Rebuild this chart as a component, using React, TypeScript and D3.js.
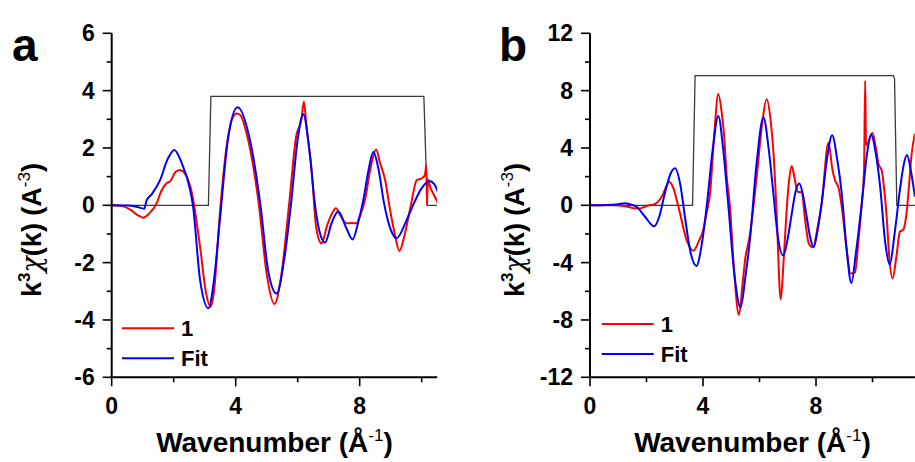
import React from 'react';
import * as d3 from 'd3';

type P = [number, number];

// Panel a: experimental k3chi(k) ("1"), fit, and window
const dataA: P[] = [[0,0],[0.3,-0.02],[0.6,-0.15],[0.85,-0.35],[1.02,-0.43],[1.2,-0.3],[1.45,0.07],[1.6,0.5],[1.77,0.77],[1.9,0.85],[2.05,1.15],[2.2,1.23],[2.42,1.0],[2.55,0.6],[2.65,0.05],[2.85,-1.44],[3.05,-3.1],[3.19,-3.54],[3.3,-3.0],[3.49,-0.28],[3.7,2.0],[3.9,3.05],[4.03,3.2],[4.15,3.15],[4.35,2.51],[4.75,0],[5.0,-2.4],[5.25,-3.44],[5.45,-2.6],[5.72,0],[5.95,2.4],[6.12,3.0],[6.2,3.62],[6.28,2.8],[6.45,1.2],[6.6,-0.8],[6.77,-1.33],[6.95,-0.7],[7.1,-0.3],[7.23,-0.1],[7.4,-0.4],[7.58,-0.63],[7.75,-0.62],[7.9,-0.63],[8.0,-0.4],[8.17,0.18],[8.35,1.3],[8.53,1.95],[8.65,1.5],[8.82,0.88],[8.98,-0.16],[9.15,-1.1],[9.28,-1.59],[9.46,-0.98],[9.65,0],[9.84,0.88],[10.0,0.94],[10.1,1.05],[10.15,1.4],[10.17,0.0],[10.2,0.9],[10.27,0.65],[10.4,0.35],[10.53,0.07]];
const fitA: P[] = [[0,0],[0.5,-0.01],[0.8,-0.05],[1.05,-0.12],[1.12,0.15],[1.3,0.4],[1.56,0.88],[1.8,1.6],[2.02,1.93],[2.25,1.5],[2.53,0.53],[2.62,0],[2.85,-2.6],[3.12,-3.59],[3.3,-2.6],[3.49,-0.51],[3.75,2.3],[4.06,3.42],[4.46,2.28],[4.8,0],[5.05,-2.3],[5.32,-3.08],[5.55,-2.0],[5.78,0],[6.0,2.3],[6.18,3.18],[6.38,1.9],[6.56,0],[6.7,-0.9],[6.88,-1.3],[7.1,-0.6],[7.31,-0.22],[7.55,-0.75],[7.77,-1.19],[7.95,-0.6],[8.12,0.2],[8.28,1.2],[8.44,1.87],[8.6,1.3],[8.78,0.1],[9.0,-0.85],[9.19,-1.15],[9.5,-0.55],[9.72,0],[10.0,0.6],[10.25,0.85],[10.4,0.75],[10.53,0.45]];
const windowA: P[] = [[0,0],[3.12,0],[3.2,3.8],[10.07,3.8],[10.18,0],[10.5,0]];

// Panel b
const dataB: P[] = [[0,0],[0.8,0],[1.2,-0.05],[1.55,-0.2],[1.75,-0.22],[2.0,-0.05],[2.3,0.09],[2.54,0.6],[2.81,1.65],[2.95,1.2],[3.13,-0.1],[3.42,-2.42],[3.66,-3.17],[3.85,-2.5],[4.01,-1.7],[4.12,-0.6],[4.25,0.84],[4.4,5.0],[4.54,7.77],[4.66,6.5],[4.75,4.8],[4.84,2.0],[4.95,0],[5.1,-4.5],[5.27,-7.65],[5.4,-5.5],[5.49,-3.8],[5.66,-2.07],[5.9,2.0],[6.1,5.8],[6.25,7.4],[6.4,5.8],[6.5,3.5],[6.6,-0.3],[6.75,-6.56],[6.85,-4.0],[6.96,-0.33],[7.05,1.8],[7.14,2.74],[7.25,1.8],[7.35,0.95],[7.5,0.9],[7.6,-0.8],[7.75,-2.7],[7.9,-2.93],[8.05,-1.6],[8.2,0.14],[8.44,4.37],[8.58,2.5],[8.67,1.77],[8.8,1.2],[8.91,-0.1],[9.08,-3.0],[9.22,-4.75],[9.38,-4.7],[9.5,-2.5],[9.62,0.14],[9.7,2.5],[9.74,8.7],[9.77,4.2],[9.85,4.4],[10.0,5.05],[10.12,4.0],[10.21,2.9],[10.33,2.4],[10.42,1.0],[10.5,-0.8],[10.6,-3.8],[10.71,-5.1],[10.85,-3.5],[10.97,-1.84],[11.09,-1.7],[11.2,-0.6],[11.27,0.84],[11.38,3.5],[11.5,5.0]];
const fitB: P[] = [[0,0],[0.6,0.02],[1.0,0.08],[1.24,0.15],[1.45,0.05],[1.65,-0.1],[1.95,-0.8],[2.27,-1.47],[2.45,-0.8],[2.65,0.84],[2.85,2.2],[3.01,2.58],[3.2,1.4],[3.36,-0.8],[3.55,-3.2],[3.77,-4.23],[3.95,-2.8],[4.13,-0.1],[4.35,4.0],[4.54,6.23],[4.72,3.8],[4.9,-0.1],[5.12,-5.0],[5.33,-7.12],[5.5,-5.0],[5.66,-2.42],[5.9,3.0],[6.14,6.13],[6.32,4.0],[6.49,0.84],[6.65,-2.2],[6.84,-3.5],[7.0,-2.3],[7.14,-0.6],[7.27,0.9],[7.41,1.52],[7.55,0.6],[7.67,-0.8],[7.8,-2.3],[7.92,-2.92],[8.05,-1.8],[8.2,0.14],[8.4,3.4],[8.57,4.88],[8.75,3.2],[8.91,0.84],[9.08,-3.0],[9.25,-5.42],[9.42,-3.2],[9.62,0.14],[9.8,3.5],[9.95,4.95],[10.1,3.8],[10.27,1.3],[10.45,-2.6],[10.61,-4.15],[10.78,-2.0],[10.97,1.07],[11.1,2.8],[11.22,3.51],[11.35,2.5],[11.5,0.6]];
const windowB: P[] = [[0,0],[3.63,0],[3.72,9.05],[10.74,9.05],[10.78,8.8],[10.86,0],[11.5,0]];

const xMajor = [0, 4, 8];
const xMinor = [2, 6, 10];
const yMajorA = [-6, -4, -2, 0, 2, 4, 6];
const yMinorA = [-5, -3, -1, 1, 3, 5];
const yMajorB = [-12, -8, -4, 0, 4, 8, 12];
const yMinorB = [-10, -6, -2, 2, 6, 10];
const legendLabels = ['1', 'Fit'];
const seriesColors = ['#ff0000', '#0000ff'];

const FONT = 'Liberation Sans, Arial, Helvetica, sans-serif';

interface PanelProps {
  id: string;
  letter: string;
  left: number;
  right: number;
  xMax: number;
  yLim: number;
  yMajor: number[];
  yMinor: number[];
  data: P[];
  fit: P[];
  win: P[];
  letterX: number;
  legendX: number;
  legendY: number;
  yTitleX: number;
}

function Panel(p: PanelProps) {
  const top = 33.3, bottom = 377.3;
  const x = d3.scaleLinear().domain([0, p.xMax]).range([p.left, p.right]);
  const y = d3.scaleLinear().domain([-p.yLim, p.yLim]).range([bottom, top]);
  const line = d3.line<P>().x(d => x(d[0])).y(d => y(d[1])).curve(d3.curveMonotoneX);
  const lineLin = d3.line<P>().x(d => x(d[0])).y(d => y(d[1]));
  const cx = (p.left + p.right) / 2;
  return (
    <g>
      <defs>
        <clipPath id={`clip-${p.id}`}>
          <rect x={p.left} y={top - 20} width={p.right - p.left} height={bottom - top + 40} />
        </clipPath>
      </defs>
      <g clipPath={`url(#clip-${p.id})`}>
        <path d={lineLin(p.win) || ''} fill="none" stroke="#3a3a3a" strokeWidth={1.3} />
        <path d={line(p.data) || ''} fill="none" stroke={seriesColors[0]} strokeWidth={2} />
        <path d={line(p.fit) || ''} fill="none" stroke={seriesColors[1]} strokeWidth={2} />
      </g>
      {/* axes */}
      <line x1={p.left} x2={p.left} y1={top} y2={bottom} stroke="#000" strokeWidth={2} />
      <line x1={p.left} x2={p.right} y1={bottom} y2={bottom} stroke="#000" strokeWidth={2} />
      {p.yMajor.map(v => (
        <g key={`ym${v}`}>
          <line x1={p.left - 9} x2={p.left} y1={y(v)} y2={y(v)} stroke="#000" strokeWidth={1.6} />
          <text x={p.left - 17} y={y(v) + 8} textAnchor="end" fontFamily={FONT} fontWeight="bold" fontSize={23}>{String(v)}</text>
        </g>
      ))}
      {p.yMinor.map(v => (
        <line key={`yn${v}`} x1={p.left - 5} x2={p.left} y1={y(v)} y2={y(v)} stroke="#000" strokeWidth={1.6} />
      ))}
      {xMajor.map(v => (
        <g key={`xm${v}`}>
          <line x1={x(v)} x2={x(v)} y1={bottom} y2={bottom + 9} stroke="#000" strokeWidth={1.6} />
          <text x={x(v)} y={414} textAnchor="middle" fontFamily={FONT} fontWeight="bold" fontSize={23}>{String(v)}</text>
        </g>
      ))}
      {xMinor.filter(v => v <= p.xMax).map(v => (
        <line key={`xn${v}`} x1={x(v)} x2={x(v)} y1={bottom} y2={bottom + 5} stroke="#000" strokeWidth={1.6} />
      ))}
      {/* legend */}
      {legendLabels.map((lab, i) => (
        <g key={lab}>
          <line x1={p.legendX} x2={p.legendX + 52} y1={p.legendY + i * 30} y2={p.legendY + i * 30} stroke={seriesColors[i]} strokeWidth={2} />
          <text x={p.legendX + 59} y={p.legendY + i * 30 + 8} fontFamily={FONT} fontWeight="bold" fontSize={22}>{lab}</text>
        </g>
      ))}
      {/* titles */}
      <text x={cx} y={452} textAnchor="middle" fontFamily={FONT} fontWeight="bold" fontSize={28}>
        Wavenumber (Å<tspan fontSize={17} fontWeight="normal" dy={-11}>-1</tspan><tspan dy={11}>)</tspan>
      </text>
      <text transform={`translate(${p.yTitleX},230) rotate(-90)`} textAnchor="middle" fontFamily={FONT} fontWeight="bold" fontSize={27}>
        k<tspan fontSize={17} dy={-11}>3</tspan><tspan dy={11} fontStyle="italic" fontWeight="normal" fontFamily="DejaVu Serif, serif">χ</tspan>(k) (A<tspan fontSize={17} fontWeight="normal" dy={-11}>-3</tspan><tspan dy={11}>)</tspan>
      </text>
      <text x={p.letterX} y={61} fontFamily={FONT} fontWeight="bold" fontSize={46}>{p.letter}</text>
    </g>
  );
}

export default function App() {
  return (
    <svg width={915} height={462} style={{ position: 'absolute', left: 0, top: 0, background: '#fff' }}>
      <rect width={915} height={462} fill="#fff" />
      <Panel id="a" letter="a" left={111.7} right={437.2} xMax={10.5} yLim={6} yMajor={yMajorA} yMinor={yMinorA}
        data={dataA} fit={fitA} win={windowA} letterX={12} legendX={122} legendY={328.3} yTitleX={40.5} />
      <Panel id="b" letter="b" left={590} right={914.9} xMax={11.5} yLim={12} yMajor={yMajorB} yMinor={yMinorB}
        data={dataB} fit={fitB} win={windowB} letterX={499} legendX={601.7} legendY={324} yTitleX={524} />
    </svg>
  );
}
